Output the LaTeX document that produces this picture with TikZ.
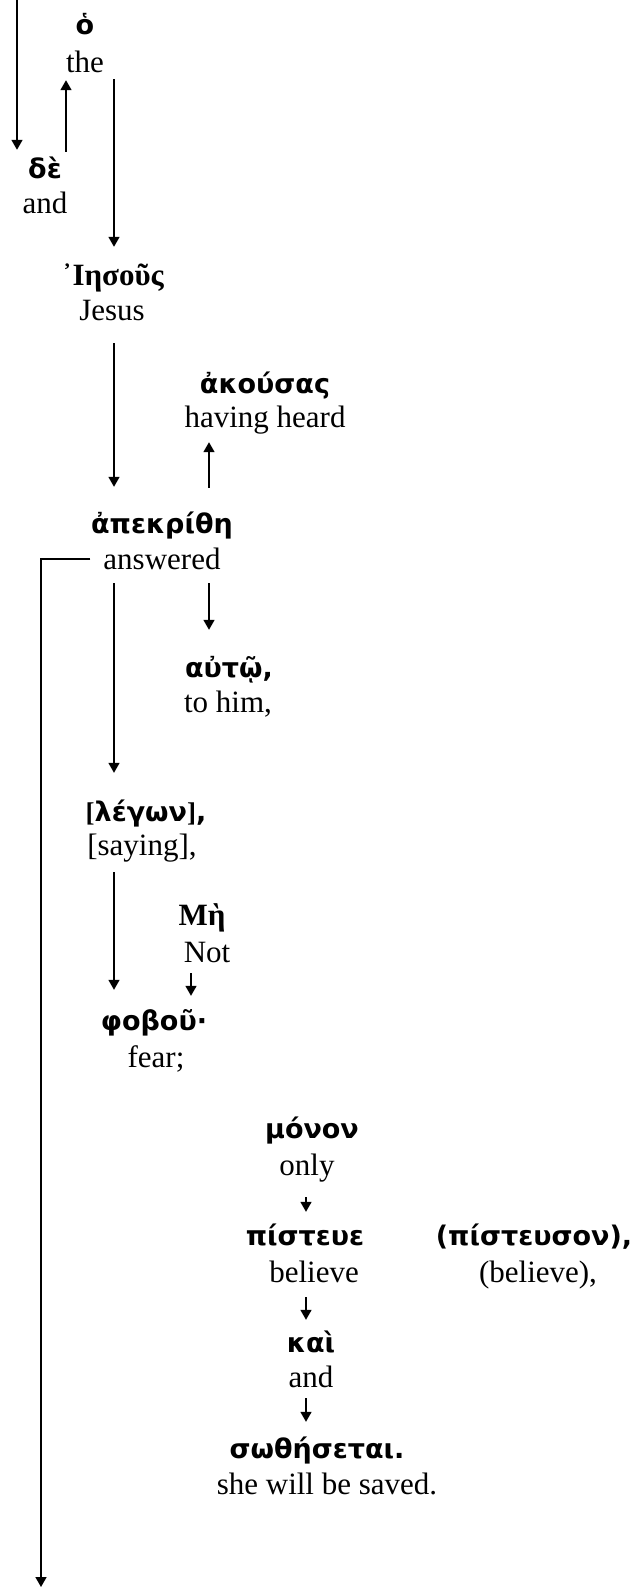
\documentclass[tikz,border=0pt]{standalone}
\usepackage{fontspec}
\setmainfont{Liberation Serif}
\newfontfamily\grk{DejaVu Sans}
\usetikzlibrary{arrows.meta,calc}
\tikzset{
  gk/.style={inner sep=0pt, anchor=base, font=\grk\bfseries\fontsize{27}{31}\selectfont, text height=22pt, text depth=7pt},
  gs/.style={inner sep=0pt, anchor=base, font=\bfseries\fontsize{31}{36}\selectfont, text height=22pt, text depth=7pt},
  en/.style={inner sep=0pt, anchor=base, font=\fontsize{31}{36}\selectfont, text height=21pt, text depth=7pt},
  arr/.style={line width=1.6pt, -{Triangle[width=11pt,length=10pt]}}
}
\begin{document}
\begin{tikzpicture}[x=1pt,y=-1pt]
\useasboundingbox[fill=white] (0,0) rectangle (633,1587);
% column helpers
\coordinate (top) at (17,0);
\coordinate (bot) at (41,1587);
\coordinate (c2) at (66,0);
\coordinate (c3) at (114,0);
\coordinate (c4) at (209,0);
\coordinate (c5) at (191,0);
\coordinate (c6) at (306,0);
% words
\node[gk] (g-ho) at (85,35) {ὁ};
\node[en] (e-the) at (85,72) {the};
\node[gk] (g-de) at (45,178) {δὲ};
\node[en] (e-and1) at (45,213) {and};
\node[gs] (g-jesus) at (113,285) {᾿Ιησοῦς};
\node[en] (e-jesus) at (112,320) {Jesus};
\node[gk] (g-akou) at (265,393) {ἀκούσας};
\node[en] (e-heard) at (265,427) {having heard};
\node[gk] (g-apek) at (162,533) {ἀπεκρίθη};
\node[en] (e-answ) at (162,569) {answered};
\node[gk] (g-auto) at (229,677) {αὐτῷ,};
\node[en] (e-him) at (228,712) {to him,};
\node[gk] (g-leg) at (146,821) {\textrm{[}λέγων\textrm{]},};
\node[en] (e-say) at (142,855) {[saying],};
\node[gs] (g-me) at (202,925) {Μὴ};
\node[en] (e-not) at (207,962) {Not};
\node[gk] (g-fob) at (154,1030) {φοβοῦ·};
\node[en] (e-fear) at (156,1067) {fear;};
\node[gk] (g-mon) at (312,1138) {μόνον};
\node[en] (e-only) at (307,1175) {only};
\node[gk] (g-pist) at (305,1245) {πίστευε};
\node[en] (e-bel) at (314,1282) {believe};
\node[gk] (g-pist2) at (534,1245) {(πίστευσον),};
\node[en] (e-bel2) at (538,1282) {(believe),};
\node[gk] (g-kai) at (311,1352) {καὶ};
\node[en] (e-and2) at (311,1387) {and};
\node[gk] (g-sot) at (317,1458) {σωθήσεται.};
\node[en] (e-saved) at (327,1494) {she will be saved.};
% connectors
\draw[arr, shorten >=6pt] (top) -- (top |- g-de.north);
\draw[arr, shorten <=4pt, shorten >=1pt] (c2 |- g-de.north) -- (c2 |- e-the.south);
\draw[arr, shorten >=16pt] (c3 |- e-the.south) -- (c3 |- g-jesus.north);
\draw[arr, shorten <=16pt, shorten >=24pt] (c3 |- e-jesus.south) -- (c3 |- g-apek.north);
\draw[arr, shorten <=23pt, shorten >=8pt] (c4 |- g-apek.north) -- (c4 |- e-heard.south);
\draw[arr, shorten <=7pt, shorten >=25pt] (c4 |- e-answ.south) -- (c4 |- g-auto.north);
\draw[arr, shorten <=7pt, shorten >=26pt] (c3 |- e-answ.south) -- (c3 |- g-leg.north);
\draw[arr, shorten <=10pt, shorten >=18pt] (c3 |- e-say.south) -- (c3 |- g-fob.north);
\draw[arr, shorten <=4pt, shorten >=12pt] (c5 |- e-not.south) -- (c5 |- g-fob.north);
\draw[arr, shorten <=15pt, shorten >=11pt] (c6 |- e-only.south) -- (c6 |- g-pist.north);
\draw[arr, shorten <=8pt, shorten >=10pt] (c6 |- e-bel.south) -- (c6 |- g-kai.north);
\draw[arr, shorten <=4pt, shorten >=14pt] (c6 |- e-and2.south) -- (c6 |- g-sot.north);
\draw[arr, shorten <=13pt] ([yshift=3pt]e-answ.west) -| (bot);
\end{tikzpicture}
\end{document}
